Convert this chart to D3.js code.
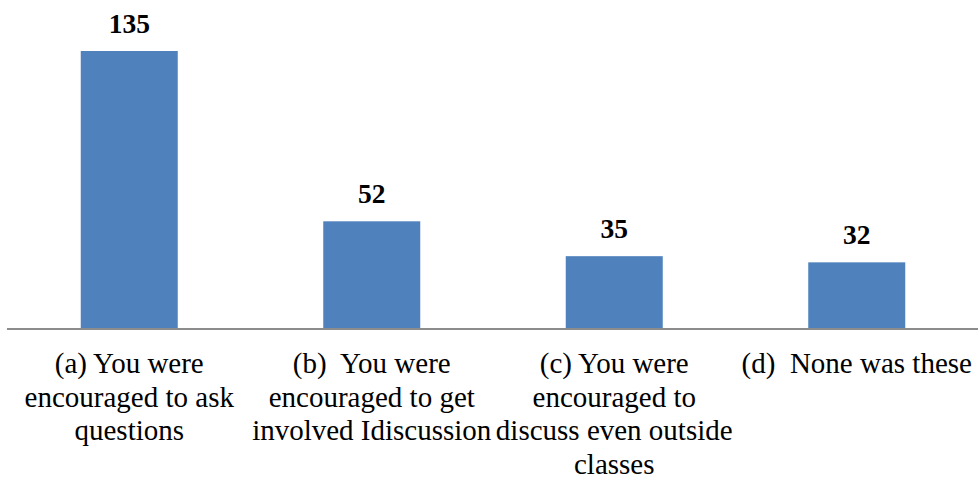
<!DOCTYPE html>
<html>
<head>
<meta charset="utf-8">
<script src="https://cdn.jsdelivr.net/npm/d3@7"></script>
<style>
body { margin: 0; background: #fff; }
svg { display: block; font-family: "Liberation Serif", "Times New Roman", serif; }
</style>
</head>
<body>
<svg id="chart" width="978" height="479"></svg>
<script>
// category labels, wrapped the way the picture shows them
var categories = ["a", "b", "c", "d"];
var labelLines = [
    ["(a) You were", "encouraged to ask", "questions"],
    ["(b)  You were", "encouraged to get", "involved Idiscussion"],
    ["(c) You were", "encouraged to", "discuss even outside", "classes"],
    ["(d)  None was these"]
];
var values = [135, 52, 35, 32];

function draw_chart() {
    var canvas = d3.select("#chart"),
        width = 978,
        height = 479,
        margins = {"left": 8, "right": 0, "top": 51, "bottom": 151};

    var x = d3.scaleBand().domain(categories)
        .range([margins.left, width - margins.right])
        .paddingInner(0.6).paddingOuter(0.3);
    var y = d3.scaleLinear().domain([0, 135])
        .range([height - margins.bottom, margins.top]);

    // bars
    canvas.append("g").selectAll("rect")
        .data(values)
        .enter().append("rect")
        .attr("x", (d, i) => x(categories[i]))
        .attr("y", d => y(d))
        .attr("width", x.bandwidth())
        .attr("height", d => y(0) - y(d))
        .attr("fill", "#4F81BD");

    // value labels
    canvas.append("g").selectAll("text")
        .data(values)
        .enter().append("text")
        .attr("x", (d, i) => x(categories[i]) + x.bandwidth() / 2)
        .attr("y", d => y(d) - 18)
        .attr("text-anchor", "middle")
        .style("font-size", "27.5px").style("font-weight", "bold")
        .attr("fill", "#000")
        .text(d => d);

    // axis
    var axis = canvas.append("g")
        .attr("transform", "translate(" + [0, y(0)] + ")")
        .call(d3.axisBottom(x).tickSize(0).tickFormat(""))
        .attr("font-family", null);
    axis.select(".domain").attr("stroke", "#8c8c8c").attr("stroke-width", 2)
        .attr("d", "M" + (margins.left - 1) + ",1H" + width);

    axis.selectAll(".tick").each(function(d, i) {
        var t = d3.select(this).append("text")
            .attr("fill", "#000")
            .attr("text-anchor", "middle")
            .style("font-family", "'Liberation Serif', 'Times New Roman', serif")
            .style("white-space", "pre")
            .style("font-size", "29px");
        labelLines[i].forEach((line, k) => {
            t.append("tspan").attr("x", 0).attr("y", 45 + k * 33.7).text(line);
        });
    });
}

draw_chart();
</script>
</body>
</html>
